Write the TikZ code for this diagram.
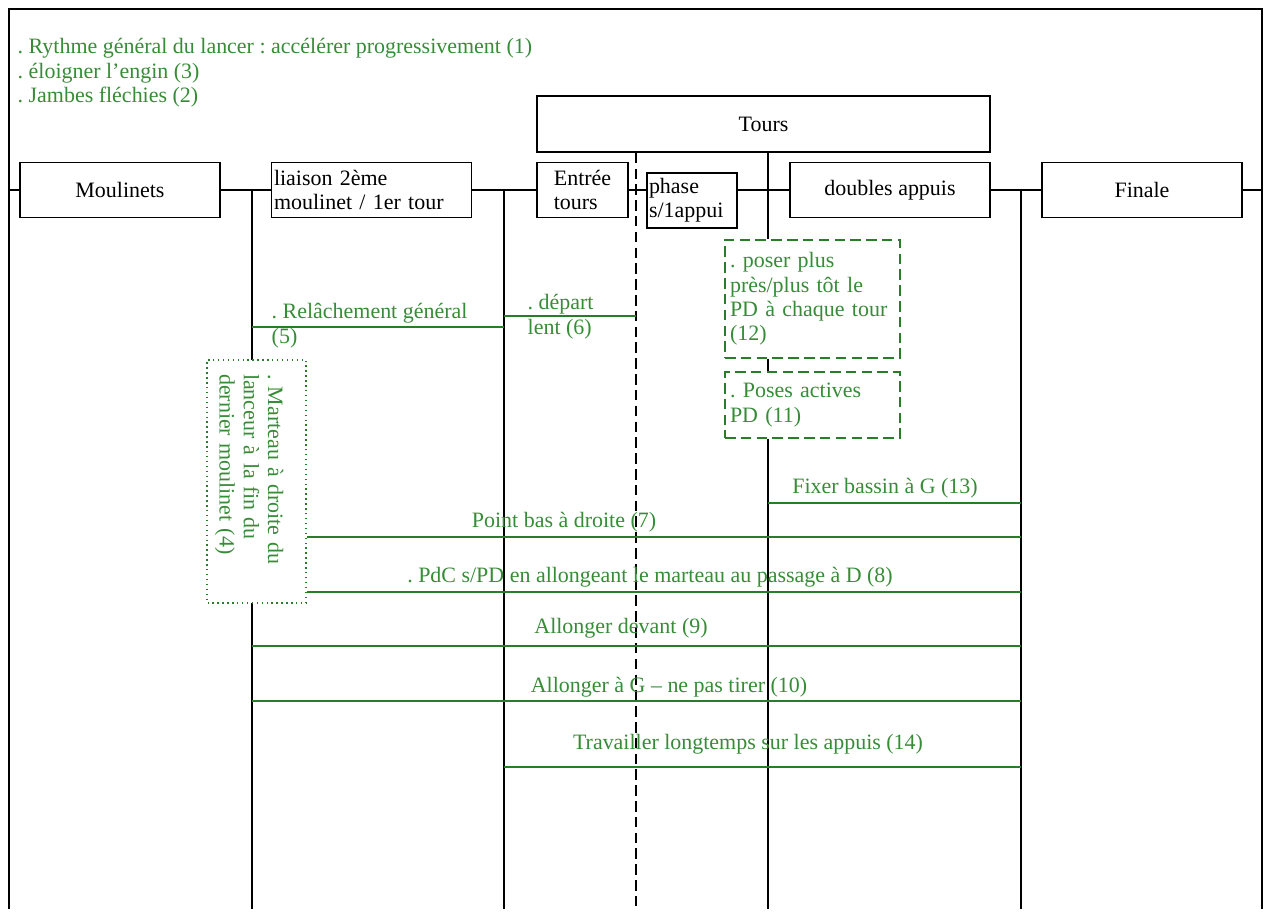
\documentclass[tikz,border=0pt]{standalone}
\usepackage{fontspec}
\setmainfont{Liberation Serif}
\usepackage{tikz}
\definecolor{vertligne}{RGB}{40,125,40}
\definecolor{verttexte}{RGB}{55,140,55}
\newcommand{\police}{\fontsize{12.5}{13.8}\selectfont}
\frenchspacing

\begin{document}
\begin{tikzpicture}[x=0.02cm, y=-0.02cm, line width=0.8pt,
    etape/.style={draw, fill=white, minimum width=4cm, minimum height=1.1cm, inner sep=1pt, font=\police},
    remarque/.style={text=verttexte, font=\police, inner sep=0pt, align=left},
    cadre/.style={draw=vertligne, fill=white, text=verttexte, font=\police, align=left},
    tirets/.style={dash pattern=on 6pt off 3pt},
    consigne/.style={vertligne, line width=1pt}]
    \useasboundingbox (0,0) rectangle (1271,914);
    \draw (9,909) |- (1262,9) -- (1262,909);
    \node[remarque, anchor=north west] (rythme) at (17,38) {. Rythme général du lancer : accélérer progressivement (1)\\. éloigner l'engin (3)\\. Jambes fléchies (2)};

    \node[etape, minimum width=9.06cm, minimum height=1.12cm] (tours) at (763.5,124) {Tours};
    \node[etape] (moul) at (120,190) {Moulinets};
    \node[etape, align=left, text width=3.9cm] (liaison) at (371.5,190) {liaison 2ème\\moulinet / 1er tour};
    \node[etape, minimum width=1.82cm, align=left] (entree) at (582.5,190) {Entrée\\tours};
    \node[etape, align=left, minimum width=1.8cm, text width=1.72cm] (phase) at (692,200.5) {phase\\s/1appui};
    \node[etape] (doubles) at (890,190) {doubles appuis};
    \node[etape] (finale) at (1142,190) {Finale};

    \coordinate (gauche) at (9,190);
    \coordinate (droite) at (1262,190);
    \draw (gauche) -- (moul) -- (liaison) -- (entree);
    \draw (entree.east) -- (entree.east -| phase.west);
    \draw (phase.east |- doubles.west) -- (doubles) -- (finale) -- (droite);

    \foreach \x/\n in {252/a, 504/b, 1021/c}
        \draw (\x,190) coordinate (haut\n) -- (\x,909) coordinate (bas\n);
    \coordinate (axe) at (636,909);
    \coordinate (axeT) at (768,909);
    \draw[tirets] (tours.south -| axe) -- (axe);

    \node[cadre, tirets, text width=3.3cm, minimum height=2.36cm, inner xsep=0.1cm] (p12) at (812.5,299) {. poser plus\\près/plus tôt le\\PD à chaque tour\\(12)};
    \node[cadre, tirets, text width=3.3cm, minimum height=1.32cm, inner xsep=0.1cm] (p11) at (812.5,405) {. Poses actives\\PD (11)};
    \draw (tours.south -| axeT) -- (p12.north -| axeT);
    \draw (p12.south -| axeT) -- (p11.north -| axeT);
    \draw (p11.south -| axeT) -- (axeT);

    \node[cadre, dotted, rotate=-90, text width=4.3cm, minimum width=4.86cm, minimum height=1.98cm] (marteau) at (256.5,481.5) {\rule{0pt}{0.6cm}. Marteau à droite du\\lanceur à la fin du\\dernier moulinet (4)};

    \node[remarque, anchor=north west] (relache) at (271,303) {. Relâchement général\\(5)};
    \node[remarque, anchor=north west] (depart) at (527,294) {. départ\\lent (6)};
    \node[remarque] (bassin) at (885,488) {Fixer bassin à G (13)};
    \node[remarque] (pointbas) at (564,522) {Point bas à droite (7)};
    \node[remarque] (pdc) at (650,577) {. PdC s/PD en allongeant le marteau au passage à D (8)};
    \node[remarque] (devant) at (621,628) {Allonger devant (9)};
    \node[remarque] (agauche) at (669,687) {Allonger à G – ne pas tirer (10)};
    \node[remarque] (appuis) at (748,744) {Travailler longtemps sur les appuis (14)};

    \draw[consigne] (hauta |- 0,327) -- (hautb |- 0,327);
    \draw[consigne] (hautb |- 0,316) -- (axe |- 0,316);
    \draw[consigne] (axeT |- 0,503) -- (hautc |- 0,503);
    \draw[consigne] (marteau.north |- 0,537) -- (hautc |- 0,537);
    \draw[consigne] (marteau.north |- 0,592) -- (hautc |- 0,592);
    \draw[consigne] (hauta |- 0,646) -- (hautc |- 0,646);
    \draw[consigne] (hauta |- 0,701) -- (hautc |- 0,701);
    \draw[consigne] (hautb |- 0,767) -- (hautc |- 0,767);
\end{tikzpicture}
\end{document}
